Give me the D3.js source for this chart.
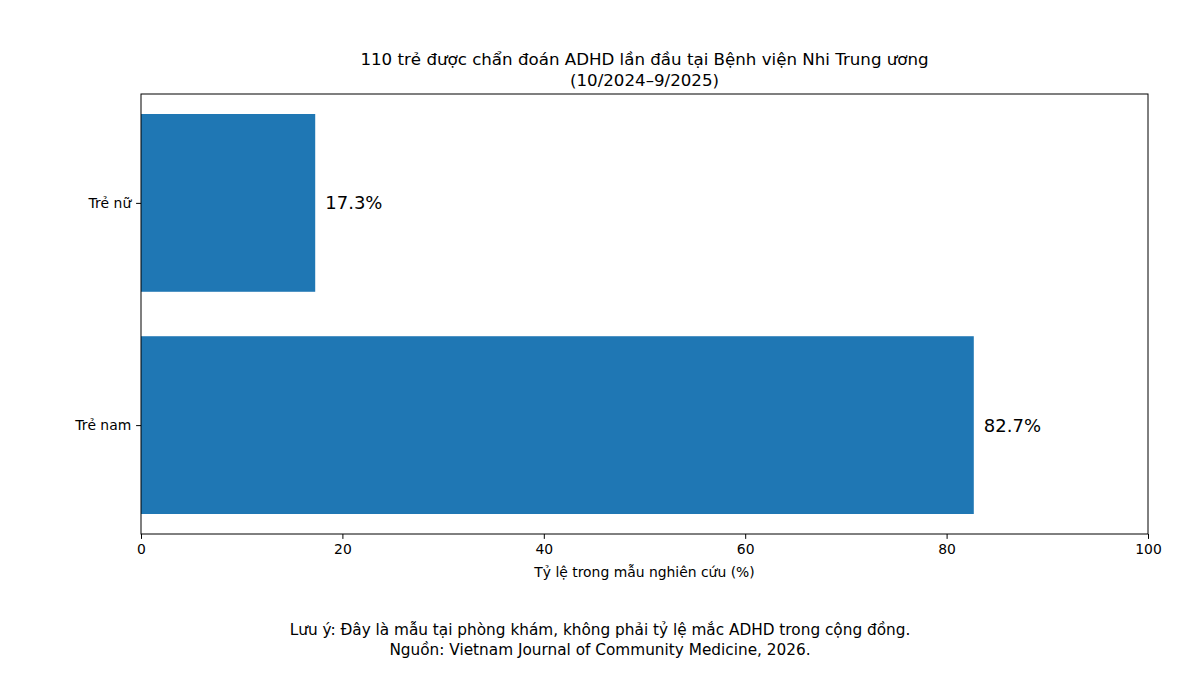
<!DOCTYPE html>
<html>
<head>
<meta charset="utf-8">
<script src="https://cdn.jsdelivr.net/npm/d3@7"></script>
<style>
  body { margin: 0; background: #fff; }
  svg { font-family: "DejaVu Sans", sans-serif; }
</style>
</head>
<body>
<svg id="chart"></svg>
<script>
const categories = ["Trẻ nam", "Trẻ nữ"];
const values = [82.7, 17.3];
const xTicks = [0, 20, 40, 60, 80, 100];
const titleLines = ["110 trẻ được chẩn đoán ADHD lần đầu tại Bệnh viện Nhi Trung ương", "(10/2024–9/2025)"];
const noteLines = ["Lưu ý: Đây là mẫu tại phòng khám, không phải tỷ lệ mắc ADHD trong cộng đồng.", "Nguồn: Vietnam Journal of Community Medicine, 2026."];

const width = 1200, height = 675;
const margin = { top: 94, right: 52, bottom: 141, left: 141 };
const innerW = width - margin.left - margin.right;
const innerH = height - margin.top - margin.bottom;

const svg = d3.select("#chart").attr("width", width).attr("height", height);
const g = svg.append("g").attr("transform", `translate(${margin.left},${margin.top})`);

const x = d3.scaleLinear().domain([0, 100]).range([0, innerW]);
// bars at 0 and 1, height 0.8, with matplotlib-like margins
const y = d3.scaleLinear().domain([-0.49, 1.49]).range([innerH, 0]);
const barH = 0.8;

g.selectAll("rect.bar")
  .data(values)
  .join("rect")
  .attr("class", "bar")
  .attr("x", x(0))
  .attr("y", (d, i) => y(i + barH / 2))
  .attr("width", d => x(d) - x(0))
  .attr("height", y(0) - y(barH))
  .attr("fill", "#1f77b4");

g.selectAll("text.val")
  .data(values)
  .join("text")
  .attr("class", "val")
  .attr("x", d => x(d + 1))
  .attr("y", (d, i) => y(i))
  .attr("dy", "0.36em")
  .attr("font-size", "18px")
  .attr("fill", "#000")
  .text(d => d.toFixed(1) + "%");

// frame
g.append("rect")
  .attr("width", innerW).attr("height", innerH)
  .attr("fill", "none").attr("stroke", "#000").attr("stroke-width", 1);

const xAxis = g.append("g")
  .attr("transform", `translate(0,${innerH})`)
  .call(d3.axisBottom(x).tickValues(xTicks).tickSize(4.9).tickPadding(4.9).tickFormat(d3.format("d")));
xAxis.select(".domain").remove();
xAxis.selectAll("text").attr("font-size", "13.9px").attr("font-family", "DejaVu Sans").attr("fill", "#000");

const yAxis = g.append("g")
  .call(d3.axisLeft(y).tickValues([0, 1]).tickSize(4.9).tickPadding(4.9).tickFormat(i => categories[i]));
yAxis.select(".domain").remove();
yAxis.selectAll("text").attr("font-size", "13.9px").attr("font-family", "DejaVu Sans").attr("fill", "#000");

g.append("text")
  .attr("x", innerW / 2).attr("y", innerH + 43)
  .attr("text-anchor", "middle")
  .attr("font-size", "13.9px")
  .text("Tỷ lệ trong mẫu nghiên cứu (%)");

svg.append("g").selectAll("text")
  .data(titleLines)
  .join("text")
  .attr("x", margin.left + innerW / 2)
  .attr("y", (d, i) => 65 + i * 20.5)
  .attr("text-anchor", "middle")
  .attr("font-size", "16.67px")
  .text(d => d);

svg.append("g").selectAll("text")
  .data(noteLines)
  .join("text")
  .attr("x", width / 2)
  .attr("y", (d, i) => 635 + i * 20)
  .attr("text-anchor", "middle")
  .attr("font-size", "15.3px")
  .text(d => d);
</script>
</body>
</html>
